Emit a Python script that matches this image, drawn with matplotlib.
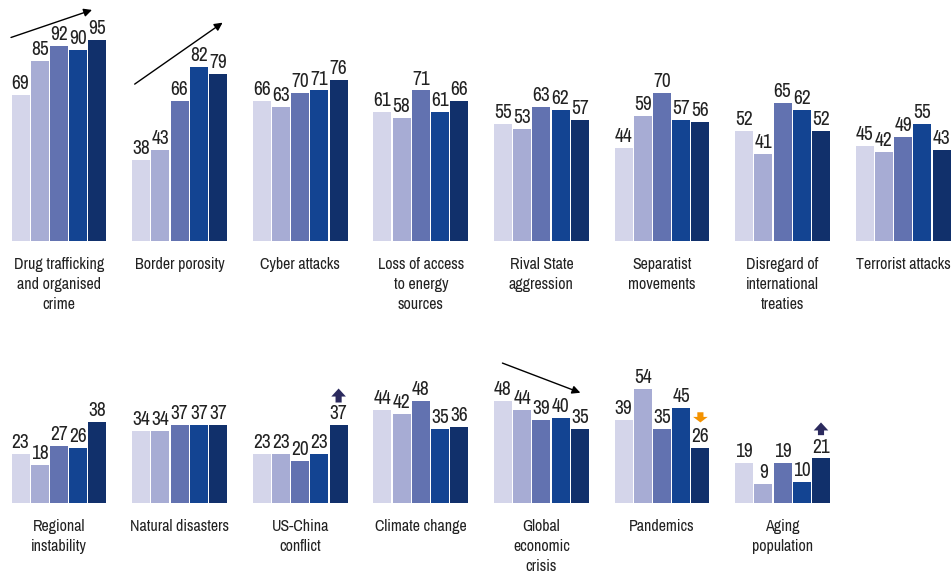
import numpy as np
import matplotlib
matplotlib.use('Agg')
from matplotlib import pyplot as plt

plt.rcParams['font.family'] = ['Archivo Narrow', 'Roboto Condensed', 'Liberation Sans', 'DejaVu Sans']

# risk categories, two rows of small bar groups
top_labels = ['Drug trafficking\nand organised\ncrime', 'Border porosity', 'Cyber attacks',
              'Loss of access\nto energy\nsources', 'Rival State\naggression', 'Separatist\nmovements',
              'Disregard of\ninternational\ntreaties', 'Terrorist attacks']
top_values = [[69, 85, 92, 90, 95],
              [38, 43, 66, 82, 79],
              [66, 63, 70, 71, 76],
              [61, 58, 71, 61, 66],
              [55, 53, 63, 62, 57],
              [44, 59, 70, 57, 56],
              [52, 41, 65, 62, 52],
              [45, 42, 49, 55, 43]]

bottom_labels = ['Regional\ninstability', 'Natural disasters', 'US-China\nconflict', 'Climate change',
                 'Global\neconomic\ncrisis', 'Pandemics', 'Aging\npopulation']
bottom_values = [[23, 18, 27, 26, 38],
                 [34, 34, 37, 37, 37],
                 [23, 23, 20, 23, 37],
                 [44, 42, 48, 35, 36],
                 [48, 44, 39, 40, 35],
                 [39, 54, 35, 45, 26],
                 [19, 9, 19, 10, 21]]

colors = ['#D4D5EA', '#A7ACD4', '#6272B0', '#134492', '#11306B']
txt = '#222222'

W, H = 951, 577
fig = plt.figure(figsize=(W / 100, H / 100), dpi=100)

x0, step, gw = 11, 120.6, 96      # pixels
px_per_unit = 2.12
ax_h = 100 * px_per_unit
baselines = [241, 503]


def make_group(row, col, label, vals):
    left = x0 + col * step
    base = baselines[row]
    ax = fig.add_axes([left / W, (H - base) / H, gw / W, ax_h / H])
    ax.set_xlim(-0.5, 4.5)
    ax.set_ylim(0, 100)
    ax.axis('off')
    x = np.arange(len(vals))
    ax.bar(x, vals, width=0.94, color=colors)
    for xi, v in zip(x, vals):
        ax.annotate(str(v), (xi, v), xytext=(0, 4.3), textcoords='offset points',
                    ha='center', va='baseline', fontsize=14, color=txt, annotation_clip=False)
    ax.annotate(label, (2, 0), xytext=(0, -11.5), textcoords='offset points',
                ha='center', va='top', fontsize=11.5, color=txt, linespacing=1.42,
                annotation_clip=False)
    return ax


axes_top = [make_group(0, i, l, v) for i, (l, v) in enumerate(zip(top_labels, top_values))]
axes_bot = [make_group(1, i, l, v) for i, (l, v) in enumerate(zip(bottom_labels, bottom_values))]

# trend arrows
trend = dict(arrowstyle='-|>', color='black', lw=1, mutation_scale=12, shrinkA=0, shrinkB=0)
axes_top[0].annotate('', xy=(3.72, 109), xytext=(-0.5, 96), arrowprops=trend, annotation_clip=False)
axes_top[1].annotate('', xy=(4.24, 103), xytext=(-0.34, 74), arrowprops=trend, annotation_clip=False)
axes_bot[4].annotate('', xy=(4.03, 52), xytext=(-0.03, 66), arrowprops=trend, annotation_clip=False)

# block arrows for notable moves
up = dict(arrowstyle='simple,head_width=1.0,head_length=0.55,tail_width=0.42',
          color='#2B2A5E', mutation_scale=10.5, shrinkA=0, shrinkB=0, lw=0)
down = dict(arrowstyle='simple,head_width=1.0,head_length=0.38,tail_width=0.42',
            color='#F39200', mutation_scale=10.5, shrinkA=0, shrinkB=0, lw=0)
axes_bot[2].annotate('', xy=(4, 54), xytext=(4, 47.4), arrowprops=up, annotation_clip=False)
axes_bot[6].annotate('', xy=(4, 38), xytext=(4, 32), arrowprops=up, annotation_clip=False)
axes_bot[5].annotate('', xy=(4, 38), xytext=(4, 42.8), arrowprops=down, annotation_clip=False)

fig.savefig('out.png', dpi=100)
